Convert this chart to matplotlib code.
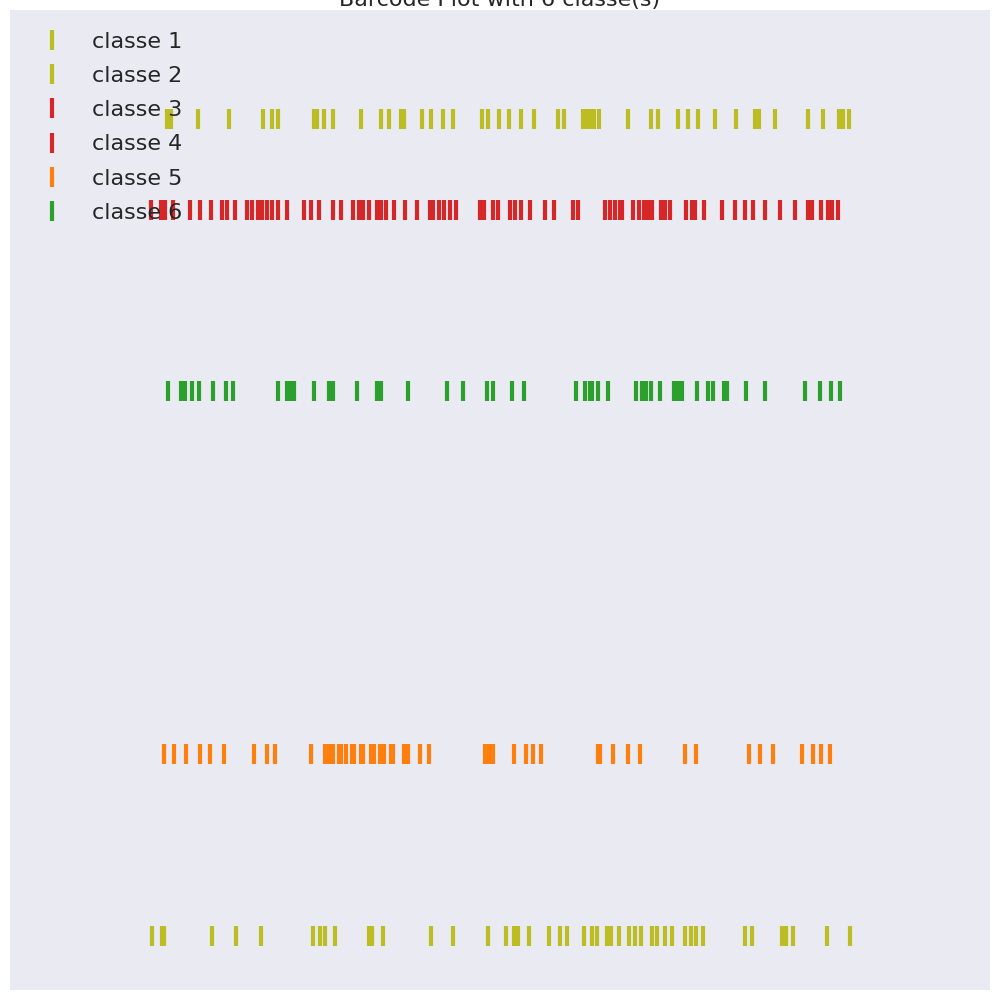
import matplotlib
matplotlib.use("Agg")
import matplotlib.pyplot as plt
from matplotlib.lines import Line2D

# positions des événements (unité arbitraire, 10..990)
classe_1 = [167, 171, 197.7, 228.7, 262.7, 271.7, 277.7, 313.7, 317.3, 324, 332.7,
            360.7, 380.7, 388.7, 400.7, 403.7, 422, 430.7, 442.7, 452.7, 481.7, 487.7,
            499, 508.7, 520.7, 533.7, 557.7, 563.7, 582.7, 586.3, 590.3, 593.7, 599,
            628, 650.7, 657.7, 677.7, 687.7, 697.7, 714.7, 735.7, 755, 758.7, 774.7,
            808.3, 822.7, 839, 843, 848.7]
classe_2 = [152.3, 162, 164, 212, 236, 261, 313, 320, 325, 335, 369, 372, 383, 431,
            453, 488, 506, 514, 518, 529, 549, 560, 567, 584, 592, 597, 607, 611, 619,
            629, 635, 641, 652, 657, 665, 672, 685.3, 691, 696, 703, 745, 752, 782, 786,
            793, 827, 850]
classe_3 = [150.7, 164.7, 189.7, 210.7, 226.7, 247.3, 258.3, 266.7, 277.7, 303.7,
            319, 341, 358.7, 368.7, 381.3, 394, 416.7, 433.3, 444.3, 455.7, 484, 498.3,
            509.7, 520.7, 545, 573, 605, 615, 622.3, 639, 648.3, 661, 670, 691.7, 704,
            735, 753, 780.3, 808, 821.3, 832.3]
classe_4 = [160.7, 172.7, 199.7, 222, 235, 252.3, 261.7, 271.7, 287.3, 311, 332.7,
            353.3, 363.3, 377, 385.7, 404.7, 430, 439, 450.3, 480, 493.3, 515, 529.7,
            554, 578, 609.7, 619.7, 633, 643.7, 652, 665, 685.7, 695.3, 722, 745, 765.3,
            795, 812, 828, 837.7]
classe_5 = [164, 174, 186, 200, 210, 224, 254.3, 267, 275, 311, 325, 329, 333, 339, 341,
            346, 352, 354, 361, 363, 371, 374, 380, 384, 391, 393, 404, 408, 420, 429,
            485, 489, 493, 514, 526, 533.3, 541.3, 598, 600, 613, 628, 640, 685, 696,
            749, 760, 773, 802, 813.3, 821, 830]
classe_6 = [168, 180.7, 185, 192, 199.3, 213, 226, 233, 278, 287, 290.7, 294, 314, 329,
            333, 357, 377, 381, 408, 447, 463, 487, 493, 512, 524, 576, 585, 590, 592.3,
            598, 608, 636, 642, 646, 651, 660, 674, 678, 682, 697, 708, 713, 724, 727,
            746, 765, 805, 820, 831, 840]

labels = ["classe 1", "classe 2", "classe 3", "classe 4", "classe 5", "classe 6"]
series = [classe_1, classe_2, classe_3, classe_4, classe_5, classe_6]
offsets = [9, 0, 8, 8, 2, 6]
colors = ["#bcbd22", "#bcbd22", "#d62728", "#d62728", "#ff7f0e", "#2ca02c"]

fig = plt.figure(figsize=(10, 10), dpi=100)
ax = fig.add_axes([0.01, 0.01, 0.98, 0.98])
ax.set_facecolor("#EAEAF2")

ax.eventplot(series, lineoffsets=offsets, linelengths=0.22, linewidths=3, colors=colors)

ax.set_xlim(10, 990)
ax.set_ylim(-0.595, 10.2)
ax.set_xticks([])
ax.set_yticks([])
for s in ax.spines.values():
    s.set_visible(False)

ax.set_title("Barcode Plot with %d classe(s)" % len(labels), fontsize=16, color="#262626", pad=2)

handles = [Line2D([], [], marker="|", linestyle="None", markersize=14,
                  markeredgewidth=3, color=c) for c in colors]
ax.legend(handles, labels, loc="upper left", bbox_to_anchor=(0.001, 0.997),
          frameon=False, fontsize=16, labelcolor="#262626", handletextpad=0.8,
          labelspacing=0.64, borderaxespad=0.45, handlelength=2.0)

fig.savefig("out.png", dpi=100)
